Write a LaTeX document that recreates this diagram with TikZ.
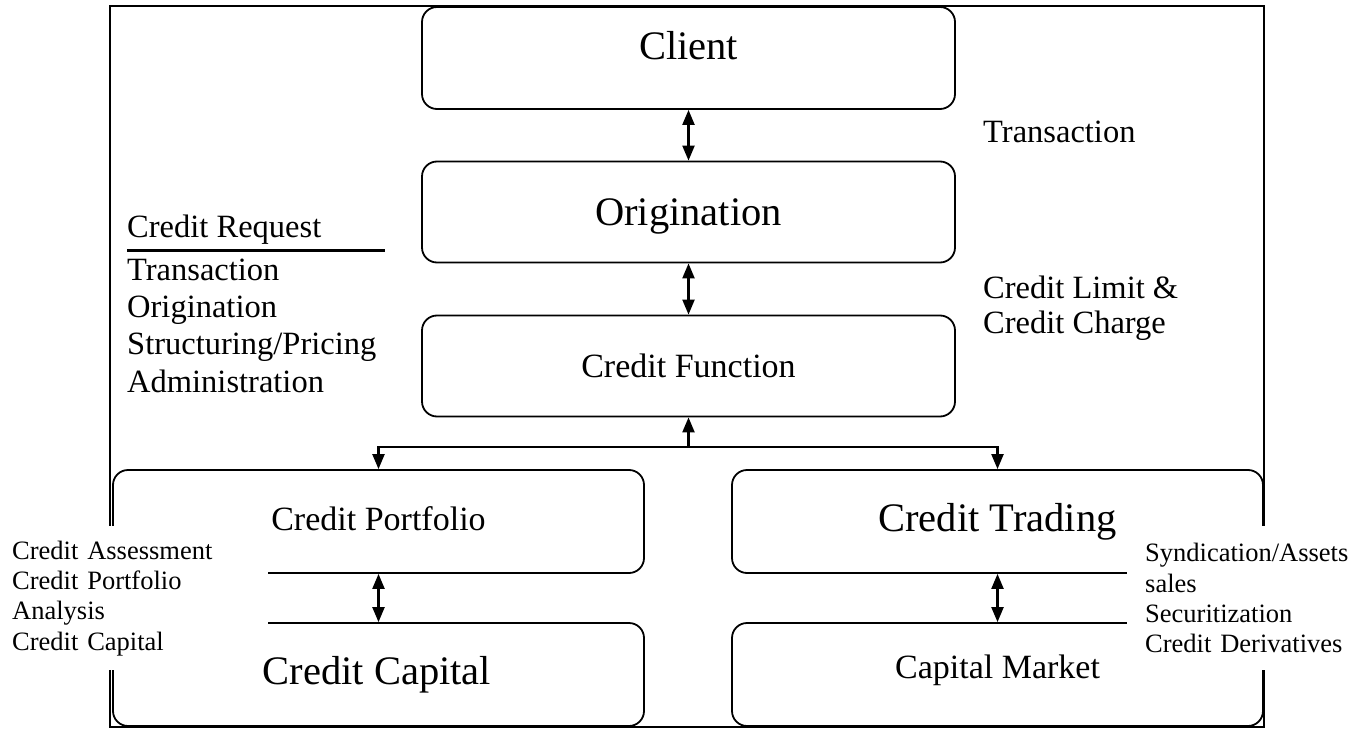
\documentclass[tikz,border=0pt]{standalone}
\usepackage{fontspec}
\setmainfont{Liberation Serif}
\usetikzlibrary{arrows.meta}
\begin{document}
\begin{tikzpicture}[x=1pt,y=-1pt,
    stagebox/.style={draw,line width=1.8pt,rounded corners=15pt,minimum width=533pt,minimum height=101pt,inner sep=0pt},
    bigfont/.style={font=\fontsize{40.5}{46}\selectfont},
    midfont/.style={font=\fontsize{34}{40}\selectfont},
    notetext/.style={font=\fontsize{32.5}{37.3}\selectfont,align=left,inner sep=0pt},
    sidebox/.style={fill=white,font=\fontsize{26.5}{30.3}\selectfont,align=left,inner ysep=0pt,minimum height=144pt},
    flow/.style={line width=2.2pt,>={Triangle[length=15pt,width=12pt]}}]
    \useasboundingbox (0,0) rectangle (1367,730);

    % stages
    \node[stagebox,minimum height=102pt] (client) at (688.5,58) {};
    \node[bigfont] (clienttxt) at (688.5,46) {Client};
    \node[stagebox,bigfont,text depth=0pt] (orig) at (688.5,212) {Origination};
    \node[stagebox,midfont] (func) at (688.5,366) {Credit Function};
    \node[stagebox,midfont,minimum width=531pt,minimum height=103pt,text depth=5pt] (port) at (378.5,521.5) {Credit Portfolio};
    \node[stagebox,bigfont,minimum width=531pt,minimum height=103pt] (trade) at (997.5,521.5) {Credit Trading};
    \node[stagebox,minimum width=531pt,minimum height=103pt] (capital) at (378.5,674.5) {};
    \node[stagebox,minimum width=531pt,minimum height=103pt] (market) at (997.5,674.5) {};

    \draw[flow,<->] (client) -- (orig);
    \draw[flow,<->] (orig) -- (func);
    \coordinate (bus) at (688.5,447);
    \draw[flow,->] (bus) -- (func);
    \draw[flow,->] (bus) -| (port);
    \draw[flow,->] (bus) -| (trade);
    \draw[flow,<->] (port) -- (capital);
    \draw[flow,<->] (trade) -- (market);

    \draw[line width=2.8pt] (110,6) rectangle (1264,727);

    % notes
    \node[notetext,anchor=base west] (req) at (127,237) {Credit Request};
    \coordinate (reqL) at (127,250);
    \coordinate (reqR) at (385,250);
    \draw[line width=3pt] (reqL) -- (reqR);
    \node[notetext,anchor=north west] (reqlist) at (127,258.5) {Transaction\\Origination\\Structuring/Pricing\\Administration};
    \node[notetext,anchor=base west] (trans) at (983,143) {Transaction};
    \node[notetext,anchor=north west,font=\fontsize{32.5}{34.7}\selectfont] (limit) at (983,276) {Credit Limit \&\\Credit Charge};

    \node[sidebox,anchor=north west,text width=244pt,inner xsep=12pt] (assess) at (0,526) {Credit Assessment\\Credit Portfolio\\Analysis\\Credit Capital};
    \node[sidebox,anchor=north west,text width=222pt,inner xsep=18pt] (synd) at (1127,526) {Syndication/Assets\\sales\\Securitization\\Credit Derivatives};

    \node[bigfont] (capitaltxt) at (377,675) {Credit Capital};
    \node[midfont] (markettxt) at (997.5,670) {Capital Market};
\end{tikzpicture}
\end{document}
